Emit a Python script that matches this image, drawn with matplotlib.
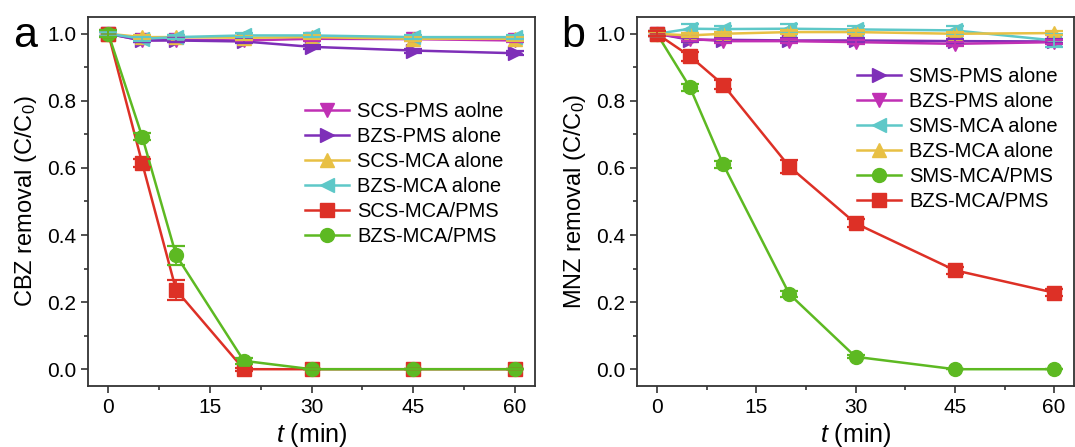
import matplotlib
matplotlib.use("Agg")
from matplotlib import pyplot as plt
from matplotlib.ticker import MultipleLocator

plt.rcParams['font.family'] = ['Liberation Sans', 'DejaVu Sans']
plt.rcParams['mathtext.fontset'] = 'custom'
plt.rcParams['mathtext.rm'] = 'Liberation Sans'
plt.rcParams['mathtext.it'] = 'Liberation Sans:italic'

time = [0, 5, 10, 20, 30, 45, 60]

# CBZ
cbz_labels = ["SCS-PMS aolne", "BZS-PMS alone", "SCS-MCA alone", "BZS-MCA alone",
              "SCS-MCA/PMS", "BZS-MCA/PMS"]
cbz_scs_pms = [1.0, 0.980, 0.982, 0.980, 0.985, 0.984, 0.980]
cbz_bzs_pms = [1.0, 0.980, 0.980, 0.977, 0.961, 0.950, 0.942]
cbz_scs_mca = [1.0, 0.990, 0.990, 0.988, 0.990, 0.985, 0.985]
cbz_bzs_mca = [1.0, 0.985, 0.990, 0.995, 0.995, 0.990, 0.990]
cbz_scs_mca_pms = [1.0, 0.614, 0.236, 0.0, 0.0, 0.0, 0.0]
cbz_bzs_mca_pms = [1.0, 0.693, 0.340, 0.025, 0.0, 0.0, 0.0]
cbz_err_scs_mca_pms = [0.01, 0.012, 0.029, 0.005, 0.0, 0.0, 0.0]
cbz_err_bzs_mca_pms = [0.01, 0.010, 0.028, 0.008, 0.0, 0.0, 0.0]

# MNZ
mnz_labels = ["SMS-PMS alone", "BZS-PMS alone", "SMS-MCA alone", "BZS-MCA alone",
              "SMS-MCA/PMS", "BZS-MCA/PMS"]
mnz_sms_pms = [1.0, 0.982, 0.982, 0.980, 0.980, 0.978, 0.977]
mnz_bzs_pms = [1.0, 0.985, 0.978, 0.978, 0.975, 0.970, 0.975]
mnz_sms_mca = [1.0, 1.015, 1.014, 1.015, 1.013, 1.010, 0.980]
mnz_bzs_mca = [1.0, 0.995, 1.000, 1.005, 1.005, 1.000, 1.002]
mnz_sms_mca_pms = [1.0, 0.840, 0.611, 0.224, 0.037, 0.0, 0.0]
mnz_bzs_mca_pms = [1.0, 0.933, 0.848, 0.604, 0.435, 0.295, 0.228]
mnz_err_sms_mca_pms = [0.008, 0.010, 0.010, 0.010, 0.005, 0.0, 0.0]
mnz_err_bzs_mca_pms = [0.008, 0.014, 0.014, 0.020, 0.012, 0.010, 0.010]
mnz_err_sms_mca = [0.008, 0.014, 0.010, 0.014, 0.010, 0.014, 0.020]

magenta = "#C030B4"
purple = "#7E2FB8"
yellow = "#E8C044"
cyan = "#5EC8C8"
red = "#DD3026"
green = "#5DB922"


def style_axes(ax, ylabel):
    ax.set_xlim(-3, 63)
    ax.set_ylim(-0.05, 1.05)
    ax.xaxis.set_major_locator(MultipleLocator(15))
    ax.xaxis.set_minor_locator(MultipleLocator(7.5))
    ax.yaxis.set_minor_locator(MultipleLocator(0.1))
    ax.set_yticks([0, 0.2, 0.4, 0.6, 0.8, 1.0])
    ax.set_yticklabels(["0.0", "0.2", "0.4", "0.6", "0.8", "1.0"])
    ax.tick_params(which='major', direction='out', length=5, width=1.2,
                   labelsize=15, color='#333333', top=False, right=False)
    ax.tick_params(which='minor', direction='out', length=3, width=1.2,
                   color='#333333', top=False, right=False)
    for s in ax.spines.values():
        s.set_linewidth(1.3)
        s.set_color('#333333')
    ax.set_xlabel(r"$t$ (min)", fontsize=18, labelpad=3)
    ax.set_ylabel(ylabel, fontsize=17, labelpad=6)


def line(ax, y, color, marker, label, err=None, ms=10):
    # the line goes into the legend, the error bars are drawn over the markers
    ax.plot(time, y, color=color, marker=marker, ms=ms, lw=1.8, label=label,
            zorder=2)
    ax.errorbar(time, y, yerr=err, color=color, fmt='none', capsize=6.5,
                elinewidth=1.3, capthick=1.6, zorder=3)


fig = plt.figure(figsize=(10.75, 4.47), dpi=100)
ax1 = fig.add_axes([0.0819, 0.1365, 0.4158, 0.8255])
ax2 = fig.add_axes([0.5926, 0.1365, 0.4065, 0.8255])

# panel a
e_small = [0.006] * 7
line(ax1, cbz_scs_pms, magenta, 'v', cbz_labels[0], e_small)
line(ax1, cbz_bzs_pms, purple, '>', cbz_labels[1], e_small)
line(ax1, cbz_scs_mca, yellow, '^', cbz_labels[2], e_small)
line(ax1, cbz_bzs_mca, cyan, '<', cbz_labels[3], e_small)
line(ax1, cbz_scs_mca_pms, red, 's', cbz_labels[4], cbz_err_scs_mca_pms)
line(ax1, cbz_bzs_mca_pms, green, 'o', cbz_labels[5], cbz_err_bzs_mca_pms)
style_axes(ax1, r"CBZ removal (C/C$_0$)")
ax1.legend(loc='upper left', bbox_to_anchor=(0.485, 0.77), frameon=False,
           fontsize=14.5, handlelength=2.2, handletextpad=0.4,
           labelspacing=0.3, borderpad=0, borderaxespad=0)
fig.text(0.012, 0.895, "a", fontsize=31)

# panel b
line(ax2, mnz_sms_pms, purple, '>', mnz_labels[0], e_small)
line(ax2, mnz_bzs_pms, magenta, 'v', mnz_labels[1], e_small)
line(ax2, mnz_sms_mca, cyan, '<', mnz_labels[2], mnz_err_sms_mca)
line(ax2, mnz_bzs_mca, yellow, '^', mnz_labels[3], e_small)
line(ax2, mnz_sms_mca_pms, green, 'o', mnz_labels[4], mnz_err_sms_mca_pms)
line(ax2, mnz_bzs_mca_pms, red, 's', mnz_labels[5], mnz_err_bzs_mca_pms)
style_axes(ax2, r"MNZ removal (C/C$_0$)")
ax2.legend(loc='upper left', bbox_to_anchor=(0.503, 0.865), frameon=False,
           fontsize=14.5, handlelength=2.2, handletextpad=0.4,
           labelspacing=0.3, borderpad=0, borderaxespad=0)
fig.text(0.522, 0.895, "b", fontsize=31)

fig.savefig("out.png", dpi=100)
